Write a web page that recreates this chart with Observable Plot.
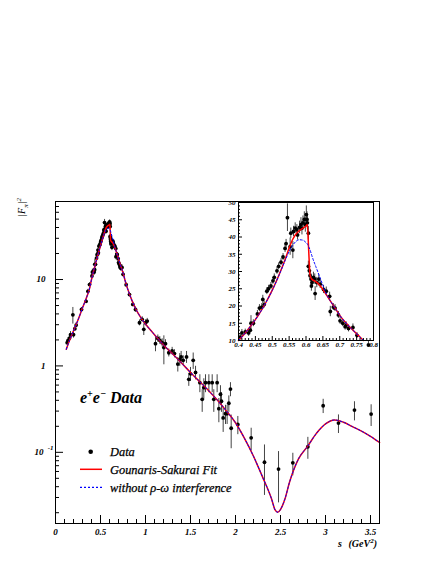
<!DOCTYPE html>
<html><head><meta charset="utf-8">
<script src="https://cdn.jsdelivr.net/npm/d3@7"></script>
<script src="https://cdn.jsdelivr.net/npm/@observablehq/plot@0.6"></script>
<style>
body{margin:0;background:#fff;}
#wrap{position:relative;width:436px;height:564px;overflow:hidden;background:#fff;}
#wrap svg{position:absolute;}
</style></head><body><div id="wrap"></div>
<script>
// ---- data points: s (GeV^2), |F_pi|^2, error ----
const dataS = [0.13,0.14,0.156,0.167,0.193,0.2,0.215,0.23,0.289,0.34,0.36,0.378,
 0.405,0.41,0.42,0.43,0.435,0.437,0.444,0.456,0.462,0.469,0.472,0.476,0.484,0.489,0.496,0.502,0.506,0.514,0.519,0.526,0.532,0.538,0.541,0.545,0.553,0.555,0.561,0.563,0.568,0.573,0.575,0.581,0.585,0.588,0.591,0.595,0.598,0.601,0.603,0.604,0.607,0.607,0.61,0.612,0.615,0.616,0.618,0.622,0.626,0.627,0.632,0.638,0.642,0.652,0.66,0.67,0.672,0.681,0.686,0.696,0.701,0.709,0.716,0.719,0.726,0.739,0.751,
 0.785,0.822,0.859,0.889,0.933,0.963,0.981,1.0,1.019,
 1.111,1.137,1.159,1.185,1.204,1.222,1.259,1.296,1.322,1.359,1.381,1.396,1.419,1.456,1.481,1.5,1.53,1.556,1.604,1.63,1.648,1.667,1.704,1.741,1.759,1.796,1.815,1.833,1.844,1.863,1.889,1.907,1.926,1.944,1.952,2.026,2.174,2.322,2.478,2.637,2.804,2.974,3.144,3.322,3.507];
const dataF = [1.86,1.98,2.1,2.3,3.9,2.3,2.7,2.97,4.5,5.6,7.3,8.75,
 11,12.2,12.5,12.2,13,15,15,17.7,19.4,19.7,21.9,20.4,24.3,25,25.8,27.3,28.3,30.2,31.5,32.7,34.2,36.7,38.1,45.6,37.2,41.1,36.2,41.6,42.6,42.1,40.6,42.8,43.6,42.6,44.1,45.1,43.6,46.5,45.1,44.1,41.1,31.5,30.2,28.8,27.8,25.8,26.8,28.3,27.8,23.6,26.8,27.8,26.3,24.8,24.3,22.8,18.4,19.7,19.4,17.4,15.7,15,14,14.4,13.5,13.8,11.5,
 8.7,6.7,5.15,4.5,3.16,3.46,2.65,3.16,3.3,
 1.81,2.08,1.98,1.86,1.63,1.81,1.42,1.49,1.39,1.05,1.19,1.27,1.16,1.27,0.70,0.81,1.16,0.84,0.64,0.41,0.56,0.64,0.64,0.64,0.41,0.64,0.32,0.47,0.39,0.25,0.28,0.28,0.37,0.54,0.19,0.21,0.147,0.0767,0.064,0.0755,0.116,0.346,0.218,0.308,0.277];
const dataE = [0.12,0.15,0.15,0.2,0.85,0.2,0.2,0.2,0.25,0.3,0.4,0.45,
 0.8,1,0.8,1,0.8,2.2,1,1,1,1,1.2,1,1,1,1,1,1,1,1,1,1,1.2,1.2,4,2.5,1.5,2.5,1.5,1.5,1.5,1.5,1.8,2,2,2,2.2,2.2,2.5,2.2,2,2,1.5,1.5,1.5,1.5,1.5,1.5,1.5,1.5,2,1.5,1.2,1.2,1.2,1.2,1.2,1.5,1,1,1,1,1,1,1,1,1,0.8,
 0.4,0.35,0.3,0.3,0.25,0.25,0.4,0.25,0.25,
 0.35,0.2,0.2,0.2,0.6,0.2,0.15,0.15,0.15,0.2,0.2,0.2,0.15,0.2,0.12,0.15,0.25,0.15,0.15,0.12,0.15,0.15,0.15,0.15,0.12,0.15,0.1,0.12,0.1,0.08,0.07,0.07,0.08,0.1,0.08,0.05,0.043,0.045,0.038,0.022,0.033,0.065,0.053,0.077,0.078];

// ---- fitted curves ----
const curveS = [0.12,0.15,0.2,0.25,0.3,0.35,0.38,0.4,0.42,0.44,0.46,0.48,0.5,0.52,0.54,0.55,0.56,0.57,0.58,0.59,0.6,0.604,0.608,0.612,0.616,0.62,0.63,0.64,0.65,0.66,0.67,0.68,0.69,0.7,0.72,0.74,0.76,0.77,0.8,0.85,0.9,0.95,1.0,1.1,1.2,1.3,1.4,1.5,1.6,1.7,1.8,1.9,2.0,2.1,2.2,2.3,2.4,2.44,2.47,2.5,2.55,2.6,2.7,2.8,2.9,3.0,3.1,3.2,3.3,3.4,3.5,3.6];
const gsF = [1.56,1.9,2.55,3.4,4.7,6.4,8.0,10.0,12.2,14.7,17.5,20.8,24.6,29.0,34.0,36.8,39.2,40.8,41.8,42.5,43.2,43.6,36.0,29.0,27.9,27.6,27.0,26.1,24.8,23.3,21.8,20.3,18.8,17.3,14.9,12.9,11.0,10.0,7.9,5.7,4.4,3.6,3.05,2.3,1.75,1.38,1.08,0.84,0.66,0.52,0.40,0.30,0.22,0.145,0.09,0.052,0.029,0.0215,0.0202,0.0218,0.029,0.045,0.084,0.117,0.166,0.213,0.237,0.223,0.198,0.176,0.153,0.13];
const noF = [1.56,1.9,2.55,3.4,4.7,6.4,8.0,10.0,12.2,14.7,17.5,20.8,24.5,28.9,33.6,35.8,37.5,38.7,39.2,39.1,38.4,38.0,37.2,36.3,35.0,33.8,31.2,28.6,26.0,23.5,21.8,20.3,18.8,17.3,14.9,12.9,11.0,10.0,7.9,5.7,4.4,3.6,3.05,2.3,1.75,1.38,1.08,0.84,0.66,0.52,0.40,0.30,0.22,0.145,0.09,0.052,0.029,0.0215,0.0202,0.0218,0.029,0.045,0.084,0.117,0.166,0.213,0.237,0.223,0.198,0.176,0.153,0.13];

// ---- ticks ----
const xTicks = [0,0.5,1,1.5,2,2.5,3,3.5];
const xTickLabels = ["0","0.5","1","1.5","2","2.5","3","3.5"];
const xMinor = [0.1,0.2,0.3,0.4,0.6,0.7,0.8,0.9,1.1,1.2,1.3,1.4,1.6,1.7,1.8,1.9,2.1,2.2,2.3,2.4,2.6,2.7,2.8,2.9,3.1,3.2,3.3,3.4];
const yMajor = [0.1,1,10];
const yMinor = [0.02,0.03,0.04,0.05,0.06,0.07,0.08,0.09,0.2,0.3,0.4,0.5,0.6,0.7,0.8,0.9,2,3,4,5,6,7,8,9,20,30,40,50,60,70,80];
const insetXTicks = [0.4,0.45,0.5,0.55,0.6,0.65,0.7,0.75,0.8];
const insetXLabels = ["0.4","0.45","0.5","0.55","0.6","0.65","0.7","0.75","0.8"];
const insetXMinor = [0.41,0.42,0.43,0.44,0.46,0.47,0.48,0.49,0.51,0.52,0.53,0.54,0.56,0.57,0.58,0.59,0.61,0.62,0.63,0.64,0.66,0.67,0.68,0.69,0.71,0.72,0.73,0.74,0.76,0.77,0.78,0.79];
const insetYTicks = [10,15,20,25,30,35,40,45,50];
const insetYMinor = d3.range(11,50).filter(v => v % 5 !== 0);

const points = dataS.map((s,i)=>({s, f:dataF[i], e:dataE[i]}));
const curve = curveS.map((s,i)=>({s, gs:gsF[i], no:noF[i]}));

const FONT = "'Liberation Serif','Times New Roman',serif";
const tickTxt = {fontFamily:FONT, fontSize:9, fontWeight:"bold", fontStyle:"italic", fill:"black"};

const main = Plot.plot({
  width:436, height:564,
  marginTop:201, marginBottom:41, marginLeft:55, marginRight:57,
  style:{fontFamily:FONT, background:"transparent", color:"black"},
  x:{domain:[0,3.6]},
  y:{type:"log", domain:[0.015,80]},
  marks:[
    Plot.ruleX(points, {x:"s", y1:d=>d.f-d.e, y2:d=>d.f+d.e, stroke:"#444", strokeWidth:1}),
    Plot.dot(points, {x:"s", y:"f", r:1.9, fill:"black", stroke:"none"}),
    Plot.line(curve, {x:"s", y:"gs", stroke:"#ff0000", strokeWidth:1.5, curve:"monotone-x"}),
    Plot.line(curve, {x:"s", y:"no", stroke:"#0000ff", strokeWidth:1, strokeDasharray:"2,2", curve:"monotone-x"}),
    Plot.frame({stroke:"black", strokeWidth:1}),
    Plot.axisX({ticks:xMinor, tickSize:-4, fill:"none", label:null}),
    Plot.axisX({ticks:xTicks, tickSize:-8, fill:"none", label:null}),
    Plot.axisX({ticks:xTicks, tickSize:0, tickPadding:5, label:null,
      tickFormat:d=>xTickLabels[xTicks.indexOf(d)], ...tickTxt}),
    Plot.axisY({ticks:yMinor, tickSize:-4, fill:"none", label:null}),
    Plot.axisY({ticks:yMajor, tickSize:-8, fill:"none", label:null}),
    Plot.axisY({ticks:[1,10], tickSize:0, tickPadding:10, label:null, tickFormat:d=>String(d), ...tickTxt}),
    Plot.text([0.1], {y:d=>d, frameAnchor:"left", dx:-12, text:()=>"10", textAnchor:"end", ...tickTxt}),
    Plot.text([0.1], {y:d=>d, frameAnchor:"left", dx:-2, dy:-5, text:()=>"-1", textAnchor:"end", ...tickTxt, fontSize:7})
  ]
});
main.style.left = "0px"; main.style.top = "0px";
document.getElementById("wrap").appendChild(main);

const itk = {fontFamily:FONT, fontSize:7, fontWeight:"bold", fontStyle:"italic", fill:"black"};
const ins = points.filter(d => d.s >= 0.4 && d.s <= 0.8);
const insCurve = curve.filter(d => d.s >= 0.4 && d.s <= 0.77);
const inset = Plot.plot({
  width:165, height:165,
  marginLeft:23, marginRight:7, marginTop:7, marginBottom:20,
  style:{fontFamily:FONT, background:"transparent", color:"black"},
  x:{domain:[0.4,0.8]},
  y:{domain:[10,50]},
  marks:[
    Plot.frame({fill:"white", stroke:"none"}),
    Plot.ruleX(ins, {x:"s", y1:d=>Math.max(10,d.f-d.e), y2:d=>Math.min(50,d.f+d.e), stroke:"#444", strokeWidth:1}),
    Plot.dot(ins, {x:"s", y:"f", r:1.9, fill:"black", stroke:"none"}),
    Plot.line(insCurve, {x:"s", y:"gs", stroke:"#ff0000", strokeWidth:1.5, curve:"monotone-x"}),
    Plot.line(insCurve, {x:"s", y:"no", stroke:"#0000ff", strokeWidth:1, strokeDasharray:"2,2", curve:"monotone-x"}),
    Plot.frame({stroke:"black", strokeWidth:1}),
    Plot.axisX({ticks:insetXMinor, tickSize:-2, fill:"none", label:null}),
    Plot.axisX({ticks:insetXTicks, tickSize:-4, fill:"none", label:null}),
    Plot.axisX({ticks:insetXTicks, tickSize:0, tickPadding:2, label:null,
      tickFormat:d=>insetXLabels[insetXTicks.indexOf(d)], ...itk}),
    Plot.axisY({ticks:insetYMinor, tickSize:-2, fill:"none", label:null}),
    Plot.axisY({ticks:insetYTicks, tickSize:-4, fill:"none", label:null}),
    Plot.axisY({ticks:insetYTicks, tickSize:0, tickPadding:3, label:null, tickFormat:d=>String(d), ...itk})
  ]
});
inset.style.left = "215px"; inset.style.top = "195px";
document.getElementById("wrap").appendChild(inset);

// ---- titles, annotation, legend ----
const svg = d3.select(main);
const g = svg.append("g").attr("font-family", FONT).attr("fill", "black").attr("text-anchor","start");

// y title |F_pi|^2 (rotated)
const yt = g.append("text").attr("transform","translate(25,198) rotate(-90)")
  .attr("text-anchor","end").attr("font-size",10).attr("font-style","italic");
yt.append("tspan").text("|F");
yt.append("tspan").attr("dy",3).attr("font-size",7).text("π");
yt.append("tspan").attr("dy",-3).text("|");
yt.append("tspan").attr("dy",-4).attr("font-size",7).text("2");

// x title
g.append("text").attr("x",338).attr("y",547).attr("font-size",10)
  .attr("font-weight","bold").attr("font-style","italic").text("s");
const xt = g.append("text").attr("x",377).attr("y",547).attr("text-anchor","end")
  .attr("font-size",10).attr("font-weight","bold").attr("font-style","italic");
xt.append("tspan").text("(GeV");
xt.append("tspan").attr("dy",-4).attr("font-size",7).text("2");
xt.append("tspan").attr("dy",4).text(")");

// e+e- Data
const ee = g.append("text").attr("x",80).attr("y",403).attr("font-size",16)
  .attr("font-weight","bold").attr("font-style","italic");
ee.append("tspan").text("e");
ee.append("tspan").attr("dy",-6).attr("font-size",10).text("+");
ee.append("tspan").attr("dy",6).text("e");
ee.append("tspan").attr("dy",-6).attr("font-size",10).text("−");
ee.append("tspan").attr("dy",6).text(" Data");

// legend
const legendLabels = ["Data","Gounaris-Sakurai Fit","without ρ-ω interference"];
g.append("circle").attr("cx",90.7).attr("cy",451.7).attr("r",2.3).attr("fill","black");
g.append("line").attr("x1",80).attr("x2",102).attr("y1",469.3).attr("y2",469.3)
  .attr("stroke","#ff0000").attr("stroke-width",1.5);
g.append("line").attr("x1",80).attr("x2",102).attr("y1",487.3).attr("y2",487.3)
  .attr("stroke","#0000ff").attr("stroke-width",1.2).attr("stroke-dasharray","2,2");
legendLabels.forEach((t,i)=>{
  g.append("text").attr("x",110).attr("y",455.8+18*i).attr("font-size",12.4)
    .attr("font-style","italic").attr("stroke","black").attr("stroke-width",0.25).text(t);
});
</script>
</body></html>
